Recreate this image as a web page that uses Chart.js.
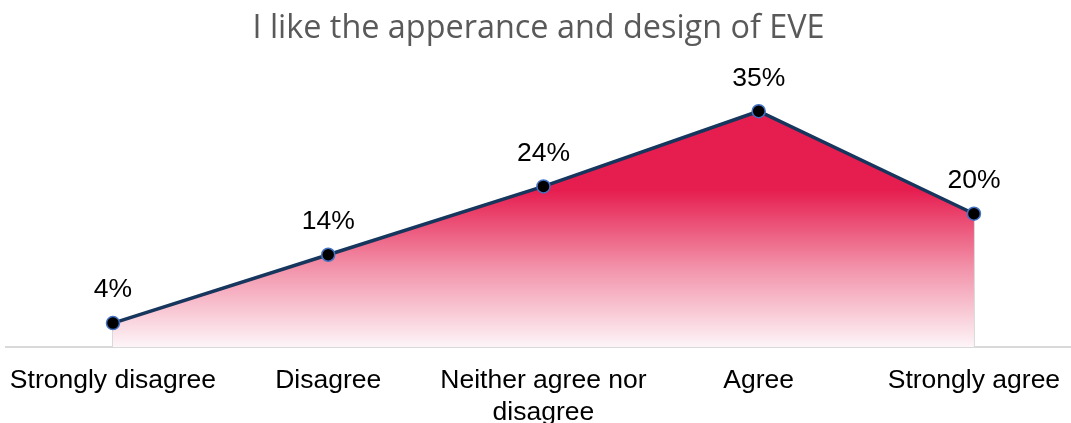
<!DOCTYPE html>
<html>
<head>
<meta charset="utf-8">
<script src="https://cdn.jsdelivr.net/npm/chart.js@4.4.1/dist/chart.umd.min.js"></script>
<style>
  html, body { margin: 0; padding: 0; background: #fff; }
  #wrap { width: 1071px; height: 423px; position: relative; }
</style>
</head>
<body>
<div id="wrap"><canvas id="chart"></canvas></div>
<script>
const chart_title = 'I like the apperance and design of EVE';
const categories = ['Strongly disagree', 'Disagree', ['Neither agree nor', 'disagree'], 'Agree', 'Strongly agree'];
const percentages = [4, 14, 24, 35, 20];

// vertical drop lines from each point down to the axis
const drop_lines = {
  id: 'drop_lines',
  beforeDatasetsDraw(chart) {
    let ctx = chart.ctx;
    let bottom = chart.scales.y.bottom;
    ctx.save();
    ctx.strokeStyle = '#d9d9d9';
    ctx.lineWidth = 2;
    chart.getDatasetMeta(0).data.forEach(p => {
      ctx.beginPath();
      ctx.moveTo(p.x, p.y);
      ctx.lineTo(p.x, bottom);
      ctx.stroke();
    });
    ctx.restore();
  }
};

// percentage labels above the points
const value_labels = {
  id: 'value_labels',
  afterDatasetsDraw(chart) {
    let ctx = chart.ctx;
    ctx.save();
    ctx.font = '26.5px "Liberation Sans", Arial, sans-serif';
    ctx.fillStyle = '#000';
    ctx.textAlign = 'center';
    ctx.textBaseline = 'middle';
    chart.getDatasetMeta(0).data.forEach((p, i) => {
      ctx.fillText(percentages[i] + '%', p.x, p.y - 33);
    });
    ctx.restore();
  }
};

// solid crimson near the top, fading to white at the axis
function area_gradient(context) {
  let area = context.chart.chartArea;
  if (!area) return 'rgb(240,140,165)';
  let g = context.chart.ctx.createLinearGradient(0, area.top, 0, area.bottom);
  g.addColorStop(0, 'rgb(230,30,80)');
  g.addColorStop(0.42, 'rgb(230,30,80)');
  g.addColorStop(0.7, 'rgb(242,144,168)');
  g.addColorStop(1, 'rgb(253,245,248)');
  return g;
}

new Chart(document.getElementById('chart'), {
  type: 'line',
  data: {
    datasets: [{
      data: percentages.map((v, i) => ({x: i, y: v})),
      borderColor: '#17365d',
      borderWidth: 3.5,
      fill: 'start',
      backgroundColor: area_gradient,
      pointRadius: 6.5,
      pointBackgroundColor: '#000',
      pointBorderColor: '#4472c4',
      pointBorderWidth: 1.5,
      tension: 0
    }]
  },
  options: {
    responsive: true,
    maintainAspectRatio: false,
    animation: false,
    layout: { autoPadding: false, padding: { left: 6, right: 0, top: 0, bottom: 0 } },
    plugins: {
      legend: { display: false },
      tooltip: { enabled: false },
      title: {
        display: true,
        text: chart_title,
        color: '#595959',
        font: { family: '"Open Sans", sans-serif', size: 32.4, weight: 'normal', lineHeight: 1.2 },
        padding: { top: 9, bottom: 29.2 }
      }
    },
    scales: {
      x: {
        type: 'linear',
        min: -0.497,
        max: 4.451,
        afterBuildTicks: scale => { scale.ticks = categories.map((c, i) => ({value: i})); },
        afterFit: scale => {
          scale.height = 76;
          scale.paddingLeft = 0;
          scale.paddingRight = 0;
        },
        grid: { display: false, drawTicks: false },
        border: { display: true, color: '#d9d9d9', width: 2 },
        ticks: {
          autoSkip: false,
          maxRotation: 0,
          padding: 18,
          color: '#000',
          font: { family: '"Liberation Sans", Arial, sans-serif', size: 26.5, lineHeight: 1.2 },
          callback: v => categories[v]
        }
      },
      y: {
        display: false,
        min: 0.5,
        max: 40
      }
    }
  },
  plugins: [drop_lines, value_labels]
});
</script>
</body>
</html>
